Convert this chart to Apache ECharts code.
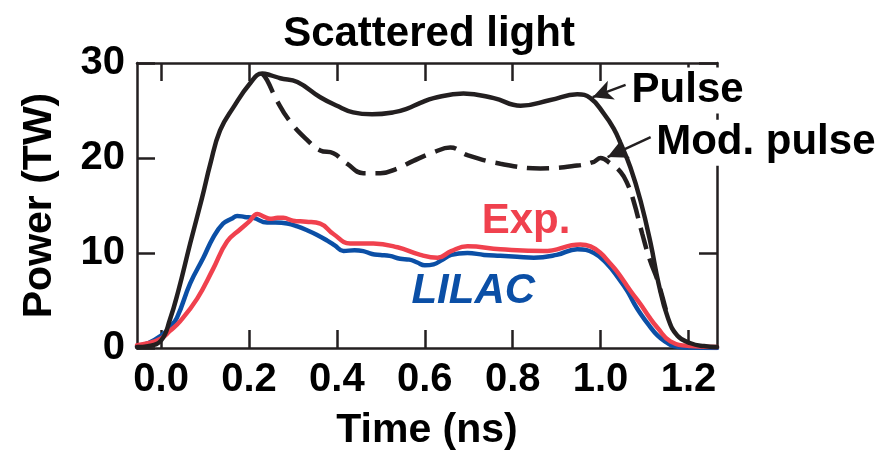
<!DOCTYPE html>
<html>
<head>
<meta charset="utf-8">
<script src="https://cdn.jsdelivr.net/npm/echarts@6/dist/echarts.min.js"></script>
<style>
  html, body { margin: 0; padding: 0; background: #fff; }
  #chart { width: 878px; height: 460px; }
</style>
</head>
<body>
<div id="chart"></div>
<script>
// Scattered-light power histories (time in ns, power in TW)
const xTicks = [0.0, 0.2, 0.4, 0.6, 0.8, 1.0, 1.2];
const yTicks = [0, 10, 20, 30];

const pulseTime = [-0.055, -0.03, 0.0, 0.02, 0.039, 0.066, 0.093, 0.112, 0.134, 0.164, 0.203, 0.23, 0.25, 0.271, 0.31, 0.362, 0.40, 0.437, 0.48, 0.528, 0.56, 0.59, 0.62, 0.688, 0.757, 0.818, 0.886, 0.947, 0.977, 1.007, 1.03, 1.046, 1.068, 1.091, 1.114, 1.132, 1.153, 1.175, 1.205, 1.235, 1.265];
const pulsePower = [0.1, 0.2, 0.8, 3.0, 6.0, 11.0, 15.8, 19.4, 22.9, 25.3, 27.9, 28.9, 28.7, 28.4, 28.0, 26.4, 25.5, 24.8, 24.6, 24.8, 25.2, 25.8, 26.3, 26.8, 26.3, 25.5, 26.1, 26.7, 26.3, 24.7, 23.1, 21.5, 19.0, 15.5, 11.0, 6.8, 3.2, 1.3, 0.5, 0.2, 0.1];

const modTime = [0.23, 0.241, 0.264, 0.294, 0.332, 0.362, 0.392, 0.423, 0.46, 0.499, 0.538, 0.574, 0.62, 0.658, 0.697, 0.772, 0.863, 0.947, 0.985, 1.0, 1.023, 1.046, 1.061, 1.075, 1.095, 1.112, 1.132, 1.153];
const modPower = [28.9, 28.2, 26.0, 23.8, 21.9, 20.8, 20.5, 19.4, 18.4, 18.4, 18.9, 19.7, 20.6, 21.1, 20.3, 19.4, 18.9, 19.2, 19.6, 20.0, 19.4, 18.5, 17.3, 15.5, 12.0, 9.3, 6.8, 3.2];

const expTime = [-0.055, -0.03, 0.0, 0.02, 0.043, 0.082, 0.118, 0.15, 0.18, 0.2, 0.219, 0.235, 0.248, 0.265, 0.278, 0.3, 0.33, 0.362, 0.392, 0.43, 0.483, 0.538, 0.59, 0.629, 0.66, 0.697, 0.772, 0.87, 0.954, 0.977, 1.0, 1.016, 1.035, 1.052, 1.07, 1.091, 1.11, 1.13, 1.159, 1.205, 1.265];
const expPower = [0.3, 0.5, 1.0, 1.8, 2.8, 5.2, 8.3, 11.2, 12.5, 13.3, 14.1, 13.8, 13.6, 13.7, 13.7, 13.4, 13.3, 13.1, 12.0, 11.0, 11.0, 10.6, 9.8, 9.5, 10.2, 10.7, 10.4, 10.2, 10.9, 10.7, 10.0, 9.2, 8.2, 7.1, 5.9, 4.6, 3.3, 2.1, 0.7, 0.2, 0.1];

const lilacTime = [-0.055, -0.03, 0.0, 0.02, 0.036, 0.066, 0.096, 0.118, 0.141, 0.16, 0.173, 0.19, 0.21, 0.241, 0.26, 0.287, 0.31, 0.332, 0.355, 0.378, 0.395, 0.415, 0.44, 0.46, 0.48, 0.499, 0.52, 0.544, 0.565, 0.583, 0.6, 0.62, 0.64, 0.66, 0.697, 0.735, 0.772, 0.81, 0.848, 0.9, 0.947, 0.985, 1.016, 1.04, 1.061, 1.075, 1.091, 1.11, 1.13, 1.15, 1.166, 1.2, 1.265];
const lilacPower = [0.2, 0.5, 1.3, 2.2, 3.2, 6.8, 9.5, 11.6, 13.1, 13.6, 13.9, 13.8, 13.7, 13.2, 13.2, 13.1, 12.8, 12.4, 11.9, 11.3, 10.8, 10.2, 10.3, 10.2, 9.9, 9.8, 9.7, 9.4, 9.3, 9.0, 8.7, 8.8, 9.3, 9.8, 10.0, 9.8, 9.7, 9.6, 9.5, 9.8, 10.4, 10.0, 8.8, 7.4, 6.0, 4.8, 3.6, 2.4, 1.3, 0.6, 0.2, 0.05, 0.0];

const pairs = (t, p) => t.map((v, i) => [v, p[i]]);

const INK = '#231f20';
const RED = '#f0414e';
const BLUE = '#0b4fa6';
const FONT = '"Liberation Sans", Arial, sans-serif';

const chart = echarts.init(document.getElementById('chart'), null, { renderer: 'canvas' });

const frameAxis = (extra) => Object.assign({
  type: 'value',
  axisLine: { show: true, onZero: false, lineStyle: { color: INK, width: 2.5 } },
  axisTick: { show: true, inside: true, length: 18, lineStyle: { color: INK, width: 2.5 } },
  splitLine: { show: false },
  axisLabel: { show: false }
}, extra);

const tickLabel = { show: true, color: '#000', fontFamily: FONT, fontWeight: 'bold', fontSize: 40 };

const curve = (name, t, p, color, z, extra) => Object.assign({
  name, type: 'line', data: pairs(t, p),
  showSymbol: false, smooth: 0.45,
  lineStyle: { color, width: 4.5, cap: 'round', join: 'round' }, z
}, extra);

const arrow = (from, to) => ({
  silent: true, animation: false, symbol: ['none', 'arrow'], symbolSize: [15, 20],
  label: { show: false },
  lineStyle: { color: INK, width: 2.5, type: 'solid' },
  data: [[{ coord: from }, { coord: to }]]
});

chart.setOption({
  animation: false,
  backgroundColor: '#fff',
  title: {
    text: 'Scattered light',
    left: 424, top: 8, textAlign: 'center',
    textStyle: { color: '#000', fontFamily: FONT, fontWeight: 'bold', fontSize: 42 }
  },
  grid: { left: 137, top: 63, right: 161, bottom: 112, containLabel: false },
  xAxis: [
    frameAxis({
      position: 'bottom', min: -0.055, max: 1.265,
      axisTick: { show: true, inside: true, length: 18, customValues: xTicks, lineStyle: { color: INK, width: 2.5 } },
      axisLabel: Object.assign({}, tickLabel, { customValues: xTicks, margin: 12, formatter: v => v.toFixed(1) }),
      name: 'Time (ns)', nameLocation: 'middle', nameGap: 62,
      nameTextStyle: { color: '#000', fontFamily: FONT, fontWeight: 'bold', fontSize: 41 }
    }),
    frameAxis({
      position: 'top', min: -0.055, max: 1.265,
      axisTick: { show: true, inside: true, length: 18, customValues: xTicks, lineStyle: { color: INK, width: 2.5 } }
    })
  ],
  yAxis: [
    frameAxis({
      position: 'left', min: 0, max: 30, interval: 10,
      axisTick: { show: true, inside: true, length: 18, customValues: yTicks, lineStyle: { color: INK, width: 2.5 } },
      axisLabel: Object.assign({}, tickLabel, { customValues: yTicks, margin: 12 }),
      name: 'Power (TW)', nameLocation: 'middle', nameGap: 77, nameRotate: 90,
      nameTextStyle: { color: '#000', fontFamily: FONT, fontWeight: 'bold', fontSize: 41 }
    }),
    frameAxis({
      position: 'right', min: 0, max: 30, interval: 10,
      axisTick: { show: true, inside: true, length: 18, customValues: yTicks, lineStyle: { color: INK, width: 2.5 } }
    })
  ],
  series: [
    curve('LILAC', lilacTime, lilacPower, BLUE, 2),
    curve('Exp.', expTime, expPower, RED, 3),
    curve('Mod. pulse', modTime, modPower, INK, 4, {
      lineStyle: { color: INK, width: 4.5, type: [22, 10], cap: 'butt' },
      markLine: arrow([1.114, 22.2], [1.016, 20.1])
    }),
    curve('Pulse', pulseTime, pulsePower, INK, 5, {
      markLine: arrow([1.057, 27.7], [0.982, 26.4])
    })
  ]
});

// Curve annotations placed in data space
const notes = [
  { text: 'Pulse', at: [1.066, 27.1], color: '#000', style: 'normal', bg: '#fff' },
  { text: 'Mod. pulse', at: [1.122, 21.6], color: '#000', style: 'normal', bg: '#fff' },
  { text: 'Exp.', at: [0.725, 13.3], color: RED, style: 'normal', bg: null },
  { text: 'LILAC', at: [0.565, 6.0], color: BLUE, style: 'italic', bg: null }
];

chart.setOption({
  graphic: notes.map(n => {
    const p = chart.convertToPixel({ xAxisIndex: 0, yAxisIndex: 0 }, n.at);
    return {
      type: 'text', x: p[0], y: p[1], z: 100,
      style: {
        text: n.text, fill: n.color, align: 'left', verticalAlign: 'middle',
        font: n.style + ' bold 42px ' + FONT,
        backgroundColor: n.bg || 'transparent', padding: [2, 2]
      }
    };
  })
});
</script>
</body>
</html>
